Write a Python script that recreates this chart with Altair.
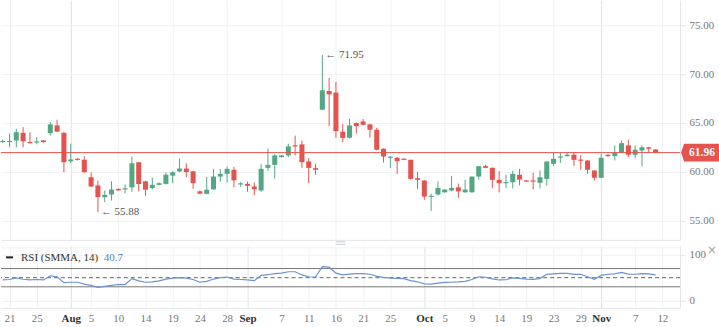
import altair as alt
import pandas as pd
import numpy as np

# ---------------- data ----------------
opens = [63.05, 63.05, 63.2, 64.0, 63.03, 63.0, 63.2, 63.95, 64.74, 64.0,
         61.08, 61.33, 61.23, 59.44, 58.6, 57.39, 57.67, 58.25, 58.2, 58.4,
         60.97, 59.02, 58.32, 58.66, 58.76, 59.6, 60.04, 60.33, 60.05, 58.0,
         57.74, 58.2, 59.51, 59.79, 60.2, 58.72, 58.76, 58.49, 58.08, 60.4,
         60.71, 61.5, 61.67, 62.7, 62.8, 61.05, 60.37, 66.35, 68.26, 68.1,
         64.1, 63.48, 64.98, 65.15, 64.85, 64.3, 62.36, 61.45, 61.43, 61.33,
         61.22, 59.34, 59.1, 57.45, 57.67, 57.9, 58.08, 58.4, 57.9, 57.9,
         59.51, 60.57, 60.4, 59.17, 58.85, 58.93, 59.69, 59.1, 59.1, 58.87,
         59.27, 60.82, 61.45, 61.6, 61.74, 61.22, 61.15, 60.13, 59.38, 61.74,
         61.6, 61.95, 62.7, 61.74, 62.18, 62.5, 62.28]
highs = [63.3, 63.9, 64.4, 64.57, 64.06, 63.55, 63.25, 65.1, 65.33, 64.05,
         62.87, 61.38, 61.6, 59.95, 59.1, 58.08, 59.03, 58.3, 58.7, 61.55,
         61.0, 59.1, 59.4, 58.9, 59.95, 60.05, 61.37, 60.85, 60.1, 58.1,
         59.48, 60.3, 60.28, 60.55, 60.5, 58.95, 59.0, 58.9, 60.8, 62.36,
         61.8, 61.72, 62.87, 63.7, 63.2, 61.4, 60.8, 71.95, 69.6, 69.2,
         64.9, 65.43, 65.05, 65.4, 64.9, 64.5, 62.4, 61.6, 61.5, 61.38,
         61.25, 60.0, 59.15, 57.77, 59.0, 58.2, 59.58, 58.8, 59.17, 59.51,
         60.6, 60.7, 60.45, 60.06, 59.69, 60.1, 60.3, 59.15, 59.9, 60.13,
         61.05, 62.0, 61.97, 62.0, 62.0, 61.7, 61.2, 60.15, 61.85, 61.8,
         62.7, 63.2, 63.28, 62.7, 62.7, 62.55, 62.3]
lows = [62.95, 62.5, 62.5, 62.5, 62.9, 62.8, 62.98, 63.7, 64.06, 59.95,
        60.87, 61.15, 59.9, 58.45, 55.88, 56.88, 57.05, 58.05, 57.8, 57.95,
        58.0, 57.56, 58.2, 58.6, 58.7, 58.83, 59.95, 59.44, 58.25, 57.7,
        57.7, 58.15, 59.0, 58.9, 58.4, 58.45, 57.95, 57.6, 57.95, 60.1,
        59.3, 61.45, 61.5, 61.67, 60.4, 58.83, 59.7, 66.3, 64.67, 63.48,
        63.03, 63.4, 63.9, 64.75, 63.48, 62.2, 60.95, 60.37, 59.79, 61.18,
        59.2, 58.25, 57.12, 56.0, 57.6, 57.85, 58.0, 57.33, 57.85, 57.85,
        59.2, 60.35, 58.3, 57.9, 58.32, 58.3, 58.6, 58.95, 58.2, 58.3,
        58.6, 60.6, 60.9, 61.55, 60.6, 60.2, 59.8, 59.1, 59.35, 61.55,
        61.15, 61.9, 61.5, 61.4, 60.57, 62.0, 61.9]
closes = [63.15, 63.15, 64.05, 63.13, 62.93, 63.1, 63.03, 64.85, 64.1, 60.98,
          61.26, 61.23, 59.95, 58.49, 57.4, 57.64, 58.18, 58.1, 58.3, 60.87,
          58.75, 58.17, 58.66, 58.83, 59.7, 59.95, 60.33, 59.97, 58.83, 57.76,
          58.16, 59.51, 59.79, 60.3, 59.12, 58.8, 58.56, 58.2, 60.3, 60.7,
          61.67, 61.67, 62.6, 62.6, 60.98, 60.4, 60.2, 68.33, 67.92, 64.16,
          63.46, 64.74, 64.67, 64.8, 64.3, 62.25, 61.56, 61.52, 61.08, 61.22,
          59.27, 59.17, 57.46, 57.52, 58.35, 58.18, 58.35, 58.0, 58.18, 59.51,
          60.57, 60.4, 59.17, 58.83, 58.92, 59.79, 59.2, 59.0, 59.0, 59.44,
          61.05, 61.33, 61.55, 61.74, 61.22, 61.15, 60.2, 59.38, 61.43, 61.6,
          61.95, 62.93, 61.74, 62.25, 62.5, 62.36, 61.96]
rsi = [45, 46, 49.5, 46.5, 45, 46, 45, 54, 52, 39,
       40, 40, 36, 33, 29, 31, 33, 35, 35, 48,
       43, 40, 41, 43, 47, 49, 50, 49, 46, 40,
       42, 47, 50, 51.5, 47, 46, 45, 43.5, 55, 56.5,
       59, 60, 63, 63, 56, 52, 51.5, 74, 73, 60,
       56, 58, 59, 59, 57.5, 53, 50.5, 49, 48.5, 48,
       43.5, 41, 36.5, 36, 38, 39.8, 40, 40.7, 42, 46,
       52, 51, 47.5, 45, 45.5, 49.5, 48.5, 47, 46.5, 48,
       57.4, 58.5, 59.5, 59.5, 57.4, 57.4, 52, 46.5, 55, 57.5,
       58.5, 61.5, 58, 57.5, 59, 58.5, 56]

tick_index = [1, 5, 10, 13, 17, 21, 25, 29, 33, 36, 41, 45, 49, 53, 57, 62,
              65, 69, 73, 77, 81, 85, 88, 93, 97]
tick_text = ["21", "25", "Aug", "5", "10", "14", "19", "24", "28", "Sep", "7",
             "11", "16", "21", "25", "Oct", "5", "9", "14", "19", "23", "29",
             "Nov", "7", "12"]
month_index = [10, 36, 62, 88]
price_ticks = [55, 57.5, 60, 62.5, 65, 67.5, 70, 72.5, 75]
rsi_ticks = [0, 100]
rsi_bands = [70, 30]
rsi_mid = 50
last_price = 61.96
high_idx, high_val = 47, 71.95
low_idx, low_val = 14, 55.88
legend_name = "RSI (SMMA, 14)"
legend_value = "40.7"

# ---------------- styling ----------------
GREEN = "#53a883"
RED = "#e5534f"
BLUE = "#6a93cf"
FONT = "Liberation Serif"
GRID = "#f0f2f5"
GRID_MONTH = "#dfe2e8"
AXIS_LINE = "#e3e5ea"

n = len(closes)
df = pd.DataFrame({"i": np.arange(n), "o": opens, "h": highs, "l": lows,
                   "c": closes, "rsi": rsi})
df["dir"] = np.where(df["c"] >= df["o"], "up", "down")
top = df[["o", "c"]].max(axis=1)
bot = df[["o", "c"]].min(axis=1)
mid = (top + bot) / 2
small = (top - bot) < 0.12
df["top"] = np.where(small, mid + 0.06, top)
df["bot"] = np.where(small, mid - 0.06, bot)
df["xl"] = df["i"] - 0.37
df["xr"] = df["i"] + 0.37

one = pd.DataFrame({"k": [0]})  # single row for one-off marks

W = 680
H_MAIN = 240
H_RSI = 62

xscale = alt.Scale(domain=[-0.25, 99.6], nice=False, zero=False)
yscale = alt.Scale(domain=[53.03, 77.55], nice=False, zero=False)
rscale = alt.Scale(domain=[-16, 119.7], nice=False, zero=False)
cscale = alt.Scale(domain=["up", "down"], range=[GREEN, RED])

full_labels = [""] * 100
for k, t in zip(tick_index, tick_text):
    full_labels[k] = t
label_expr = "[" + ",".join("'" + s + "'" for s in full_labels) + "][datum.value]"
month_test = "indexof([" + ",".join(str(m) for m in month_index) + "], datum.value) >= 0"

grid_color = {"condition": {"test": month_test, "value": GRID_MONTH}, "value": GRID}

x_axis_main = alt.Axis(values=tick_index, grid=True, gridColor=grid_color,
                       labels=False, ticks=False, domain=True,
                       domainColor=AXIS_LINE, title=None)
y_axis_main = alt.Axis(orient="right", values=price_ticks, grid=True,
                       gridColor=GRID, tickColor=AXIS_LINE, tickSize=5,
                       domain=True, domainColor=AXIS_LINE, labelPadding=4,
                       labelExpr="datum.value == 62.5 ? '' : format(datum.value, '.2f')",
                       labelColor="#777777", labelFont=FONT, labelFontSize=11,
                       title=None)

base = alt.Chart(df)

wicks = base.mark_rule(strokeWidth=1).encode(
    x=alt.X("i:Q", scale=xscale, axis=x_axis_main),
    y=alt.Y("l:Q", scale=yscale, axis=y_axis_main),
    y2="h:Q",
    color=alt.Color("dir:N", scale=cscale, legend=None),
)
bodies = base.mark_rect().encode(
    x=alt.X("xl:Q", scale=xscale),
    x2="xr:Q",
    y=alt.Y("bot:Q", scale=yscale),
    y2="top:Q",
    color=alt.Color("dir:N", scale=cscale, legend=None),
)
price_line = alt.Chart(one).mark_rule(color=RED, strokeWidth=1).encode(
    y=alt.datum(last_price, scale=yscale)
)
box_shape = "M -1 0 L -0.84 -0.47 L 1 -0.47 L 1 0.47 L -0.84 0.47 Z"
price_box = alt.Chart(one).mark_point(shape=box_shape, filled=True, size=1444,
                                      color=RED, opacity=1).encode(
    x=alt.value(700), y=alt.datum(last_price, scale=yscale)
)
price_text = alt.Chart(one).mark_text(color="white", fontWeight="bold", font=FONT,
                                      fontSize=11.5, align="center",
                                      baseline="middle").encode(
    x=alt.value(702), y=alt.datum(last_price, scale=yscale),
    text=alt.value(f"{last_price:.2f}")
)
hi_note = alt.Chart(one).mark_text(align="left", baseline="middle", dx=3,
                                   font=FONT, fontSize=11, color="#555555").encode(
    x=alt.datum(high_idx, scale=xscale), y=alt.datum(high_val, scale=yscale),
    text=alt.value(f"\u2190 {high_val:.2f}")
)
lo_note = alt.Chart(one).mark_text(align="left", baseline="middle", dx=3,
                                   font=FONT, fontSize=11, color="#555555").encode(
    x=alt.datum(low_idx, scale=xscale), y=alt.datum(low_val, scale=yscale),
    text=alt.value(f"\u2190 {low_val:.2f}")
)

main = alt.layer(wicks, bodies, price_line, price_box, price_text, hi_note,
                 lo_note).properties(width=W, height=H_MAIN)

# ---------------- RSI pane ----------------
x_axis_rsi = alt.Axis(values=tick_index, grid=True, gridColor=grid_color,
                      labelExpr=label_expr, ticks=False, domain=True,
                      domainColor=AXIS_LINE, labelPadding=5, labelFont=FONT,
                      labelFontSize=11,
                      labelFontWeight={"condition": {"test": month_test, "value": "bold"},
                                       "value": "normal"},
                      labelColor={"condition": {"test": month_test, "value": "#333333"},
                                  "value": "#777777"},
                      labelFlush=False, labelOverlap=False, title=None)
y_axis_rsi = alt.Axis(orient="right", values=rsi_ticks, grid=True, gridColor=GRID,
                      tickColor=AXIS_LINE, tickSize=5, domain=True,
                      domainColor=AXIS_LINE, labelPadding=4, labelColor="#777777",
                      labelFont=FONT, labelFontSize=11, title=None)

rsi_line = base.mark_line(color=BLUE, strokeWidth=1.2).encode(
    x=alt.X("i:Q", scale=xscale, axis=x_axis_rsi),
    y=alt.Y("rsi:Q", scale=rscale, axis=y_axis_rsi),
)
band_df = pd.DataFrame({"v": rsi_bands})
bands = alt.Chart(band_df).mark_rule(color="#777777", strokeWidth=1).encode(
    y=alt.Y("v:Q", scale=rscale)
)
mid_line = alt.Chart(one).mark_rule(color="#666666", strokeWidth=1,
                                    strokeDash=[4, 3]).encode(
    y=alt.datum(rsi_mid, scale=rscale)
)
pane_top = alt.Chart(one).mark_rule(color=GRID, strokeWidth=1).encode(
    x=alt.value(0), x2=alt.value(W), y=alt.value(2)
)
legend_mark = alt.Chart(one).mark_rule(color="#222222", strokeWidth=2).encode(
    x=alt.value(5), x2=alt.value(12), y=alt.value(11.5)
)
legend_text = alt.Chart(one).mark_text(align="left", baseline="middle", font=FONT,
                                       fontSize=11, color="#333333").encode(
    x=alt.value(20), y=alt.value(12), text=alt.value(legend_name)
)
legend_val = alt.Chart(one).mark_text(align="left", baseline="middle", font=FONT,
                                      fontSize=11, color="#4f7fc4").encode(
    x=alt.value(103), y=alt.value(12), text=alt.value(legend_value)
)
close_x = alt.Chart(one).mark_text(align="center", baseline="middle",
                                   fontSize=12, color="#a0a0a0",
                                   font="DejaVu Sans").encode(
    x=alt.value(712), y=alt.value(4), text=alt.value("\u00d7")
)
handle1 = alt.Chart(one).mark_rule(color="#c9ccd3", strokeWidth=1).encode(
    x=alt.value(335), x2=alt.value(345), y=alt.value(-4)
)
handle2 = alt.Chart(one).mark_rule(color="#c9ccd3", strokeWidth=1).encode(
    x=alt.value(335), x2=alt.value(345), y=alt.value(-1.5)
)

rsi_pane = alt.layer(pane_top, bands, mid_line, rsi_line, legend_mark, legend_text,
                     legend_val, close_x, handle1, handle2).properties(
    width=W, height=H_RSI)

chart = alt.vconcat(main, rsi_pane, spacing=6, bounds="flush").properties(
    padding=0, background="white"
).configure_view(stroke=None)

chart.save("out.html", embed_options={"renderer": "svg", "actions": False})
